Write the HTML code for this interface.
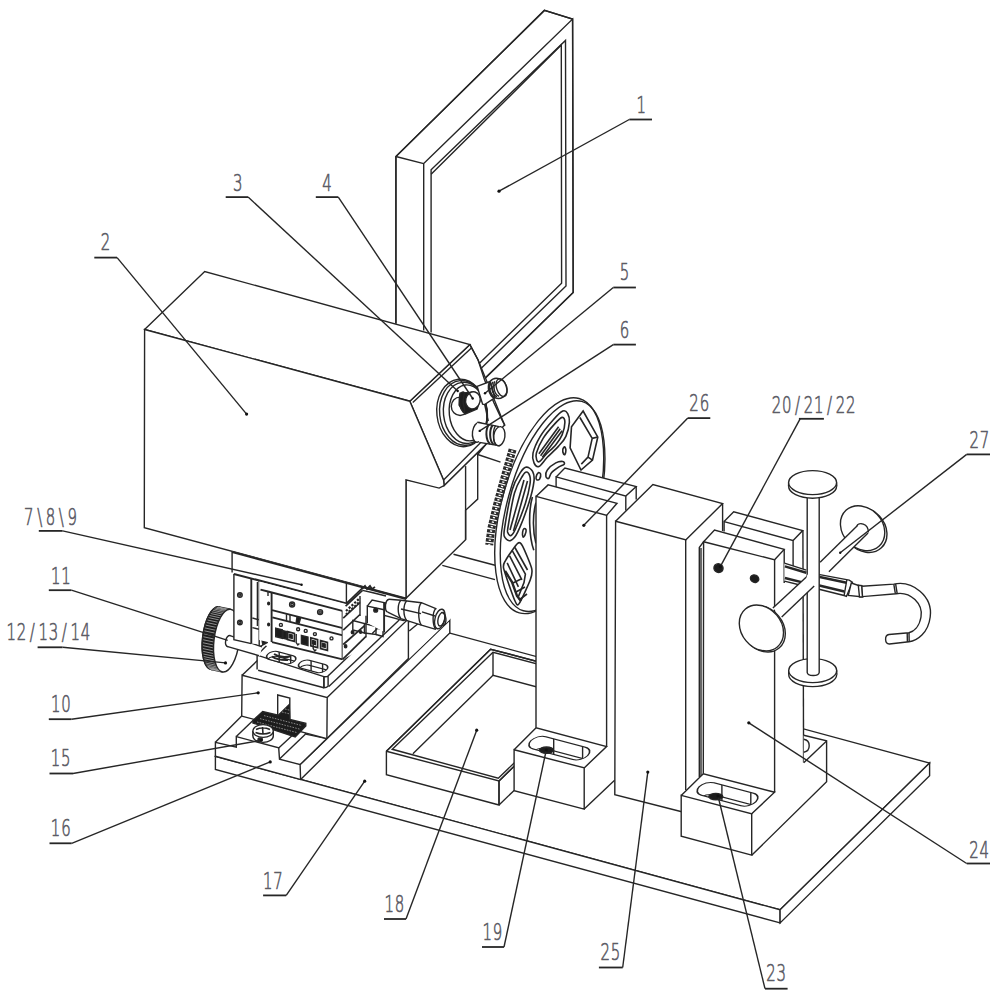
<!DOCTYPE html>
<html lang="en"><head><meta charset="utf-8"><title>Figure</title>
<style>
html,body{margin:0;padding:0;background:#fff;}
body{width:1000px;height:998px;overflow:hidden;}
svg{display:block;}
svg *{vector-effect:none;}
.g{fill:none;stroke:#262626;stroke-width:1.4;stroke-linecap:butt;stroke-linejoin:miter;}
.g .w{fill:#fff;}
.g .f{fill:#fff;stroke:none;}
.g .k{fill:#1c1c1c;}
.g .d{fill:#111;stroke:none;}
.g .t{stroke-width:0.8;}
.g .u{stroke-width:1.8;}
.g .h{stroke-width:0.9;stroke:#555;}
.lb text{font-family:"DejaVu Sans Light","DejaVu Sans","Liberation Sans",sans-serif;font-weight:200;font-size:23.3px;text-anchor:middle;fill:#5c5c66;stroke:#5c5c66;stroke-width:0.7px;}
</style></head><body>
<svg width="1000" height="998" viewBox="0 0 1000 998">
<rect width="1000" height="998" fill="#fff"/>
<g class="g">
<polygon class="w" points="395.9,330 395.9,156.5 544.4,10.4 572.6,19.1 573.2,292.5 485,378.3 423.7,400"/>
<polyline points="395.9,323 395.9,156.5 544.4,10.4 572.6,19.1"/>
<polyline points="423.7,330.5 423.7,163.6 572.6,19.1 573.2,292.5 485,378.3"/>
<polyline points="395.9,156.5 423.7,163.6"/>
<polyline points="431.1,332.5 431.1,169.7 565.5,40.4 566,286 481.5,368"/>
<polyline points="431.1,174.2 561.3,45 561.6,283.3 479.5,363.3"/>
<polyline points="453.5,554.2 495,565.2"/>
<polyline points="442.3,565.4 495,579.6"/>
<polyline points="477.7,454.5 500.5,462.1"/>
<polygon class="w" points="406,479.8 406,598.3 465.6,539.7 465.6,510.2 477.7,499.1 477.7,454.5 486.2,444 444.1,485.5"/>
<polyline points="465.6,466.1 465.6,539.7"/>
<polygon class="w" points="409.8,401.2 469.9,344.6 478.1,360 504.6,425.1 486.2,444 444.1,485.5 443.6,480.1"/>
<polygon class="w" points="144.6,329.5 204.7,271.5 469.9,344.6 409.8,401.2"/>
<polygon class="w" points="144.6,329.5 409.8,401.2 443.6,480.1 444.1,485.5 439.1,488.1 406,479.8 406,598.3 144.3,527.7"/>
<polyline points="412.8,402.6 471.4,348"/>
<polyline points="443.6,480.1 481.2,442"/>
<clipPath id="endface"><polygon points="409.8,401.2 469.9,344.6 478.1,360 484.6,380 494.1,403.1 502.1,420.1 504.8,425.5 486.2,444 444.1,485.5 443.6,480.1"/></clipPath>
<g clip-path="url(#endface)">
<ellipse class="w" cx="461.9" cy="412.9" rx="25.05" ry="33.87" transform="rotate(-6 461.9 412.9)"/>
<ellipse cx="463.3" cy="412.9" rx="23.65" ry="32.46" transform="rotate(-6 463.3 412.9)"/>
<ellipse cx="465.3" cy="412.9" rx="21.84" ry="30.66" transform="rotate(-6 465.3 412.9)"/>
<ellipse cx="468.3" cy="412.9" rx="19.04" ry="28.06" transform="rotate(-6 468.3 412.9)"/>
</g>
<polyline points="469.9,344.6 478.1,360 484.6,380 494.1,403.1 502.1,420.1 505,425.6"/>
<polyline points="484.6,404.1 488.3,421.1"/>
<ellipse class="w" cx="460.1" cy="406.3" rx="8.82" ry="9.22"/>
<polygon class="k" points="460.1,393.1 472.1,392.1 480.1,400.1 477.1,409.1 465.1,414.1 459.1,405.1"/>
<path class="k" d="M460.1,394.1C460.9,392.2 463.6,391.3 464.1,392.6C464.6,393.9 463,399.2 463.1,402.1C463.2,405 464.6,408.4 464.6,410.1C464.6,411.8 463.9,413.1 463.1,412.1C462.3,411.1 460.1,407.1 459.6,404.1C459.1,401.1 459.4,396 460.1,394.1Z"/>
<ellipse class="w" cx="472.9" cy="400.3" rx="7.21" ry="8.62" transform="rotate(15 472.9 400.3)"/>
<polygon class="w" points="477.1,386.3 490.1,381.5 495.1,397.6 484.6,404.6 482.6,404.1"/>
<path class="w" d="M490.1,381.5C494.1,376 506.2,377 507,390.1C507.2,396.1 500.1,400.1 495.1,397.6Z"/>
<ellipse cx="501.6" cy="387.6" rx="5.01" ry="9.22" transform="rotate(-18 501.6 387.6)"/>
<path d="M491.1,382.5C488.1,386.1 490.1,395.1 495.1,397.3"/>
<path d="M492.9,381.9C490.3,386.1 492.3,395.1 497.1,396.7"/>
<path d="M494.6,381.2C492.5,386.1 494.5,395.1 499.1,396.2"/>
<g style="stroke-width:1.8">
<path d="M489.7,382.2C487.1,387.1 489.1,395.1 494.1,398.1"/>
</g>
<ellipse class="w" cx="478.1" cy="432.3" rx="5.61" ry="10.02" transform="rotate(8 478.1 432.3)"/>
<polygon class="f" points="477.1,422.3 499.1,426.6 500.1,445.7 479.1,442.4"/>
<polyline points="477.3,422.3 499.1,426.6"/>
<polyline points="479.3,442.4 500.1,445.8"/>
<ellipse class="w" cx="499.3" cy="436.2" rx="5.61" ry="9.62" transform="rotate(8 499.3 436.2)"/>
<g style="stroke-width:2">
<path d="M489.1,424.3C485.1,429.1 485.6,440.2 490.1,444"/>
<path d="M492.6,425.1C489.1,430.1 489.3,440.2 493.3,444.5"/>
</g>
<path d="M495.6,425.7C492.6,430.1 492.6,440.2 496.1,445"/>
<polygon class="w" points="215.4,756.3 780.1,909.8 929.6,763 364.5,610"/>
<polygon class="w" points="215.4,756.3 215.4,769.5 780.1,922.9 780.1,909.8"/>
<polygon class="w" points="780.1,909.8 780.1,922.9 929.6,775.8 929.6,763"/>
<ellipse class="w" cx="549.2" cy="505.7" rx="47.2" ry="111.3" transform="rotate(15.6 549.2 505.7)"/>
<ellipse cx="552.6" cy="506.1" rx="45" ry="108.7" transform="rotate(15.6 552.6 506.1)"/>
<path d="M512.6,449.5 L510.7,456.1 L503.8,480.2 L497,505 L491.4,528.3 L489.2,545" style="stroke:#2b2b2b;stroke-width:8;stroke-dasharray:3.4 1.2"/>
<path d="M512.6,449.5 L510.7,456.1 L503.8,480.2 L497,505 L491.4,528.3 L489.2,545" style="stroke:#fff;stroke-width:2.2;stroke-dasharray:1.3 3.3;stroke-dashoffset:-1"/>
<g id="wheelg" style="stroke-width:1.6">
<path d="M534,462.9C533,460.7 532,457.5 533,453.1C534,448.7 537,441.8 540.3,436.3C543.6,430.8 549.1,424.4 552.9,420.2C556.6,416 560.3,412.1 562.8,411C565.3,409.9 566.6,411.7 567.7,413.6C568.8,415.5 569.7,418.5 569.4,422.3C569.1,426.1 567.7,432.3 565.9,436.3C564.1,440.3 561.7,442.6 558.6,446.1C555.5,449.6 550.6,453.9 547.3,457.3C544,460.7 541.1,465.6 538.9,466.5C536.7,467.4 535,465.1 534,462.9Z"/>
<path d="M536.8,460.1C536.3,458.7 535.3,456.7 536.4,453.1C537.5,449.5 540.1,443.2 543.1,438.4C546.1,433.6 551.1,427.9 554.3,424.4C557.5,420.9 560.3,417.8 562.1,417.4C563.9,417 564.9,419.4 564.9,422.3C564.9,425.2 563.6,431.2 562.1,434.9C560.6,438.6 558.5,441.4 555.8,444.7C553.1,448 548.6,451.7 545.9,454.5C543.2,457.3 541.1,460.6 539.6,461.5C538.1,462.4 537.3,461.5 536.8,460.1Z"/>
<polyline points="538.9,453.8 558.6,426.8"/>
<polyline points="542.4,457.3 562.1,430.7"/>
<polyline points="540.6,455.7 560.2,428.7"/>
<polygon points="583.1,411 597.8,437 592.5,460.1 581,470 570.1,447.8 571.5,426.8"/>
<polyline points="579.9,417.5 592.2,438.4 588,457.1 581.3,464.1"/>
<polyline points="588,457.1 592.5,460.1"/>
<polyline points="592.2,438.4 597.8,437"/>
<path d="M545.9,476.3C545.7,474.9 545.6,472.2 547.3,470C548.9,467.8 553.2,464.3 555.8,462.9C558.4,461.5 561.4,461.3 562.8,461.5C564.2,461.7 564.9,463.4 564.2,464.3C563.5,465.2 560.7,465.8 558.6,467.2C556.5,468.6 553.1,470.9 551.5,472.8C549.9,474.7 549.6,477.8 548.7,478.4C547.8,479 546.1,477.7 545.9,476.3Z"/>
<path d="M563.5,453.8C563.1,453 562.6,450.8 562.8,449.6C563,448.4 564.1,446.7 564.6,446.8C565.1,446.9 565.9,449 565.9,450.3C565.9,451.6 565.3,453.9 564.9,454.5C564.5,455.1 563.9,454.6 563.5,453.8Z"/>
<path d="M536.1,477C536.3,475.8 537.5,473.3 538.2,472.8C539,472.3 540.4,473.1 540.6,474.2C540.8,475.2 540.2,478.2 539.6,479.1C539,480 537.4,480.2 536.8,479.8C536.2,479.4 535.9,478.2 536.1,477Z"/>
<path d="M520.7,472.1C523.1,468.3 524.3,467.2 526.3,467.1C528.3,467 531.3,469 532.6,471.4C533.9,473.8 534.6,476.1 534,481.2C533.4,486.3 531.8,493.7 529.1,502.2C526.4,510.7 520.8,525.7 517.7,532.1C514.6,538.5 512.8,539.6 510.7,540.5C508.6,541.4 506.2,539.6 505.1,537.7C504.1,535.8 503.2,537.2 504.4,529.3C505.6,521.3 509.4,499.5 512.1,490C514.8,480.5 518.3,475.9 520.7,472.1Z"/>
<path d="M522.5,476C524.5,472.5 525.3,472 526.5,472C527.7,472 529.2,474 529.8,476C530.4,478 530.7,479.5 530,484C529.3,488.5 527.9,495.5 525.5,503C523.1,510.5 517.9,523.6 515.5,529C513.1,534.4 512.2,534.8 511,535.5C509.8,536.2 508.5,534.4 508,533C507.5,531.6 506.9,533.7 508,527C509.1,520.3 512.1,501.5 514.5,493C516.9,484.5 520.5,479.5 522.5,476Z"/>
<polyline points="524,480 510,530"/>
<polyline points="527.5,481 513.5,531"/>
<path d="M517.7,543.3C519.7,541.7 521,543.1 522.6,546.1C524.2,549.1 530.8,564.7 531.7,568.6C532.6,572.5 531.8,575.7 530.3,579.8C528.8,583.9 520.9,601.1 519.1,603.6C517.3,606.1 516.7,604.9 514.9,600.8C513.1,596.7 504.8,573.3 503.7,568.6C502.6,563.9 504.2,563.1 505.8,560.1C507.4,557.1 515.7,544.9 517.7,543.3Z"/>
<polyline points="512.1,550.3 525.4,574.2 524,582.6 518.4,596.6"/>
<polyline points="514.9,547.5 527.5,570"/>
<polyline points="509.6,555.9 521.9,579.8"/>
<polyline points="507.2,562.9 518.4,586.8"/>
<path d="M505,571 l7,11 l5,14 l4,5" style="stroke-width:2.4"/>
<path d="M513,583 l8,-4 M516,592 l9,-5 M519,600 l8,-6" style="stroke-width:1.6"/>
<path d="M532.4,497C528.2,511 528.9,536.3 533.8,550.3"/>
<path d="M535.9,502.6C532.4,515.3 532.8,532.1 535.9,543.3"/>
<path d="M522.6,532.1C522.8,530.7 523.4,529 524,528.6C524.6,528.2 525.9,529 526.1,530C526.3,531 525.5,533.7 525,534.9C524.5,536.1 523.4,537.5 523,537C522.6,536.5 522.4,533.5 522.6,532.1Z"/>
</g>
<polygon class="f" points="300.1,764.6 449.8,620.1 449.8,632.9 300.6,779.4"/>
<polyline points="300.1,764.6 449.8,620.1 449.8,632.9 300.6,779.4"/>
<polygon class="f" points="408.4,622.9 445,600 449.8,619.4 408.4,659.3"/>
<polyline points="409.2,631 420,622"/>
<polygon class="f" points="215.4,742.3 236.3,747.1 236.3,736.6 278.7,747.9 279.5,759.1 300.1,764.6 300.6,779.4 215.4,756.3"/>
<polygon class="f" points="215.4,742.3 241.7,716.1 262,721 236.3,747.1"/>
<polygon class="f" points="236.3,736.6 278.7,747.9 305.7,723 263.3,711.7"/>
<polygon class="f" points="279.5,759.1 300.1,764.6 326.9,738.6 305.6,734.1"/>
<polygon class="f" points="278.7,747.9 305.7,723 305.6,734.1 279.5,759.1"/>
<polyline points="215.4,756.3 215.4,742.3 236.3,747.1 236.3,736.6 278.7,747.9 279.5,759.1 300.1,764.6 300.6,779.4"/>
<polyline points="215.4,742.3 241.7,716.1"/>
<polyline points="236.3,736.6 254,719.6"/>
<polyline points="278.7,747.9 305.7,723"/>
<polyline points="279.5,759.1 305.6,734.1"/>
<polyline points="305.7,723 305.6,734.1"/>
<polyline points="305.6,734.1 326.9,738.6"/>
<polyline points="300.1,764.6 326.9,738.6"/>
<polyline points="215.4,756.3 301,779.6"/>
<polygon class="f" points="242.1,675.2 259.2,659 340,659 408.4,618.8 408.4,658.4 326.9,738.6 241.7,716.1"/>
<polyline points="241.7,716.1 242.1,675.2 327.2,697.6 326.9,738.6"/>
<polyline points="241.7,716.1 326.9,738.6"/>
<polyline points="242.1,675.2 258,660"/>
<polyline points="327.2,697.6 408.4,618.8 408.4,658.4 326.9,738.6"/>
<polyline points="277.7,725 277.7,695 289.8,698 289.8,728"/>
<polygon class="k" points="253.1,720.3 262.7,711.5 278.3,715.2 289.2,704.6 289.8,719.4 305.8,723.4 305.8,726 295.2,737 252.9,723"/>
<path id="padhatch" d="M257,722 l40,10.6 M260,718.6 l40,10.6 M264,715.6 l38,10 M282,712 l8,2 M285,709 l5,1.3" style="stroke:#cfcfcf;stroke-width:0.6;stroke-dasharray:1.6 1.2"/>
<ellipse class="w" cx="263.1" cy="736" rx="10.2" ry="6.4"/>
<rect class="f" x="252.9" y="731" width="20.4" height="5"/>
<polyline points="252.9,731 252.9,736"/>
<polyline points="273.3,731 273.3,736"/>
<ellipse class="w" cx="263.1" cy="731" rx="10.2" ry="6.4"/>
<path d="M256,729.5 q7,-3.5 14,0 M255.5,732.5 q7.5,3 15,0 M262.5,727 l0.5,7" style="stroke-width:1.6"/>
<ellipse class="k" cx="260.2" cy="739.6" rx="2.2" ry="1.6"/>
<polygon class="f" points="257.1,655.1 266.5,645.5 345,645.5 381,625 399.2,620 329,686.2 323.9,687.8 258.1,670.2"/>
<polyline points="257.1,669.4 257.1,655.1 323.9,676.7"/>
<path d="M323.9,676.7Q327,676.9 328.1,676L328.1,686.3Q326.5,687.8 323.9,687.8Z"/>
<polyline points="258.1,670.2 323.9,687.8"/>
<polyline points="323.9,676.7 323.9,687.8"/>
<polyline points="257.1,655.1 266.5,645.8"/>
<polyline points="328.3,675.8 381,625"/>
<polyline points="328.8,686.4 399.2,620"/>
<clipPath id="sc1"><path transform="matrix(0.968 0.256 0.707 -0.704 281.2 657.6)" d="M-8.2,-5.6 L8.2,-5.6 A5.6,5.6 0 0 1 8.2,5.6 L-8.2,5.6 A5.6,5.6 0 0 1 -8.2,-5.6 Z"/></clipPath>
<path class="w" transform="matrix(0.968 0.256 0.707 -0.704 281.2 657.6)" d="M-8.2,-5.6 L8.2,-5.6 A5.6,5.6 0 0 1 8.2,5.6 L-8.2,5.6 A5.6,5.6 0 0 1 -8.2,-5.6 Z"/>
<g clip-path="url(#sc1)"><path transform="matrix(0.968 0.256 0.707 -0.704 281.2 662.6)" d="M-8.2,-5.6 L8.2,-5.6 A5.6,5.6 0 0 1 8.2,5.6 L-8.2,5.6 A5.6,5.6 0 0 1 -8.2,-5.6 Z"/>
<line x1="279.2" y1="627.6" x2="279.2" y2="687.6"/>
<line x1="290.7" y1="627.6" x2="290.7" y2="687.6"/>
</g>
<clipPath id="sc2"><path transform="matrix(0.968 0.256 0.707 -0.704 313.1 666.4)" d="M-8.2,-5.6 L8.2,-5.6 A5.6,5.6 0 0 1 8.2,5.6 L-8.2,5.6 A5.6,5.6 0 0 1 -8.2,-5.6 Z"/></clipPath>
<path class="w" transform="matrix(0.968 0.256 0.707 -0.704 313.1 666.4)" d="M-8.2,-5.6 L8.2,-5.6 A5.6,5.6 0 0 1 8.2,5.6 L-8.2,5.6 A5.6,5.6 0 0 1 -8.2,-5.6 Z"/>
<g clip-path="url(#sc2)"><path transform="matrix(0.968 0.256 0.707 -0.704 313.1 671.4)" d="M-8.2,-5.6 L8.2,-5.6 A5.6,5.6 0 0 1 8.2,5.6 L-8.2,5.6 A5.6,5.6 0 0 1 -8.2,-5.6 Z"/>
<line x1="311.1" y1="636.4" x2="311.1" y2="696.4"/>
<line x1="322.6" y1="636.4" x2="322.6" y2="696.4"/>
</g>
<path d="M272,656.5 q6,4 16,3.5 M274,654 q8,5 17,2" style="stroke-width:2"/>
<g transform="rotate(7 226.6 640.6)">
<path class="k" d="M215,608 a12.6,31.6 0 0 0 0,63.2 l11.6,1 a12.6,31.6 0 0 1 0,-63.2 z"/>
<ellipse class="k" cx="215" cy="639.6" rx="12.6" ry="31.6"/>
<path d="M214,608.3 L224.8,609.3 M212.9,608.9 L223.7,609.9 M211.7,609.7 L222.5,610.7 M210.6,610.8 L221.4,611.8 M209.5,612.2 L220.3,613.2 M208.5,613.8 L219.3,614.8 M207.6,615.7 L218.4,616.7 M206.7,617.8 L217.5,618.8 M205.9,620 L216.7,621 M205.2,622.5 L216,623.5 M204.6,625.1 L215.4,626.1 M204.1,627.8 L214.9,628.8 M203.7,630.7 L214.5,631.7 M203.4,633.6 L214.2,634.6 M203.3,636.6 L214.1,637.6 M203.2,639.6 L214,640.6 M203.3,642.6 L214.1,643.6 M203.4,645.6 L214.2,646.6 M203.7,648.5 L214.5,649.5 M204.1,651.4 L214.9,652.4 M204.6,654.1 L215.4,655.1 M205.2,656.7 L216,657.7 M205.9,659.2 L216.7,660.2 M206.7,661.4 L217.5,662.4 M207.6,663.5 L218.4,664.5 M208.5,665.4 L219.3,666.4 M209.5,667 L220.3,668 M210.6,668.4 L221.4,669.4 M211.7,669.5 L222.5,670.5 M212.9,670.3 L223.7,671.3 M214,670.9 L224.8,671.9" style="stroke:#b8b8b8;stroke-width:0.7"/>
<ellipse class="w" cx="226.6" cy="640.6" rx="12.6" ry="31.6"/>
</g>
<polygon class="f" points="230.1,635.6 262,646.8 260,656 227.1,646.1"/>
<polyline points="230.1,635.6 262,646.8"/>
<polyline points="227.8,646.6 259,655.6"/>
<path d="M230.6,635.6C225.5,634.5 223.5,645.5 228.2,646.8"/>
<polygon class="f" points="233.9,572.5 251.3,576.7 259.2,581 271.6,592 271.6,646 251.3,643.4 233.9,639.8"/>
<polyline points="233.9,572.8 233.9,639.8 251.3,643.6"/>
<g style="stroke-width:1.9">
<polyline points="251.3,576.7 251.3,643.6"/>
</g>
<polyline points="259.2,581 259.2,646"/>
<polyline points="257.4,582 257.4,626"/>
<polyline points="252.4,618 258.8,619.7"/>
<polyline points="252.4,627.6 258.8,629.3"/>
<polyline points="259.2,632 266.4,625.6 267.2,642.5 260,646.5"/>
<path class="k" d="M262,640 l4,-3 l0.4,5 l-3.6,2.6 z"/>
<ellipse cx="239.9" cy="595.1" rx="2.3" ry="2.3"/>
<ellipse cx="239.9" cy="595.1" rx="1.1" ry="1.1"/>
<ellipse cx="239.9" cy="622.4" rx="2.3" ry="2.3"/>
<ellipse cx="239.9" cy="622.4" rx="1.1" ry="1.1"/>
<polygon class="f" points="232.1,551.4 346.4,582.2 362.5,586.6 362.5,588 346.4,603.5 232.1,573.5"/>
<g style="stroke-width:2.1">
<polyline points="232.1,552 406,598.9"/>
<polyline points="233.9,573.9 346.4,603.5"/>
</g>
<polyline points="232.1,551.4 232.1,572.4"/>
<polyline points="346.4,582.6 346.4,603.5"/>
<polyline points="346.4,603.5 362.5,588"/>
<polygon class="f" points="259.2,581.4 346,604 343,661 272,643 259.2,640"/>
<g style="stroke-width:1.9">
<polyline points="260.5,589.6 268,591.5"/>
<polyline points="268,591.5 342.4,610.8"/>
<polyline points="272,610.1 342.8,628.2"/>
<polyline points="272.4,617.3 342.8,635.4"/>
<polyline points="271.6,592 271.6,642"/>
<polyline points="272,642.1 342.6,659.4"/>
<polyline points="342.6,610.6 342.6,659.4"/>
</g>
<polyline points="268,591.5 268,596"/>
<ellipse cx="292.1" cy="604.5" rx="2.5" ry="2.5"/>
<ellipse cx="292.1" cy="604.5" rx="1.2" ry="1.2"/>
<ellipse cx="320.1" cy="612.1" rx="2.5" ry="2.5"/>
<ellipse cx="320.1" cy="612.1" rx="1.2" ry="1.2"/>
<ellipse class="k" cx="268.6" cy="603.5" rx="0.9" ry="1.3"/>
<ellipse class="k" cx="268.6" cy="624.5" rx="0.9" ry="1.3"/>
<polyline points="286.5,614.2 286.5,620.6"/>
<polyline points="290,615 290,621.4"/>
<polyline points="299,617.4 298,623.6"/>
<path class="k" d="M297,617 l3.6,1 l-1.4,5 l-3,-0.8 z"/>
<path class="k" d="M275.7,628.2 l6.6,1.7 l0,8.4 l-6.6,-1.7 z"/>
<path class="k" d="M301.4,635.4 l6.6,1.7 l0,8.4 l-6.6,-1.7 z"/>
<path d="M287.6,631.6 l6.8,1.8 l0,8 l-6.8,-1.8 z" style="stroke-width:1.7"/>
<path class="k" d="M289.2,634.2 l3,0.8 l0,3.4 l-3,-0.8 z"/>
<path d="M310.8,637.8 l6.8,1.8 l0,8 l-6.8,-1.8 z" style="stroke-width:1.7"/>
<path class="k" d="M312.4,640.4 l3,0.8 l0,3.4 l-3,-0.8 z"/>
<path d="M320.6,640.6 l6.8,1.8 l0,8 l-6.8,-1.8 z" style="stroke-width:1.7"/>
<path class="k" d="M322.2,643.2 l3,0.8 l0,3.4 l-3,-0.8 z"/>
<path class="k" d="M283,630.6 l3.4,0.9 l0,7.6 l-3.4,-0.9 z"/>
<ellipse cx="280.9" cy="624.9" rx="1.5" ry="1.5"/>
<ellipse cx="298.1" cy="629.3" rx="1.5" ry="1.5"/>
<ellipse cx="305.7" cy="630.9" rx="1.5" ry="1.5"/>
<ellipse cx="314.9" cy="634.1" rx="1.5" ry="1.5"/>
<ellipse cx="331.5" cy="638.4" rx="1.5" ry="1.5"/>
<path d="M296.2,634 l0,8.6 l1.6,2.4 l1.6,-1.6 M313.2,640 l0,8.6 l1.6,2.4 l1.6,-1.6" style="stroke-width:1.4"/>
<polygon class="f" points="342.6,610.6 362.5,588 372,592 372,643.8 342.6,659.4"/>
<g style="stroke-width:1.7">
<polyline points="345.6,606.1 362.5,590.4"/>
<polyline points="343.2,618.1 360,602.5"/>
<polyline points="343.2,630.1 360,614.5"/>
<polyline points="343.2,644.5 364.9,625.3"/>
<polyline points="342.6,659.4 366,636.4"/>
</g>
<path d="M346,611 l14,-13 M346,614.5 l14,-13" style="stroke-width:2.2;stroke-dasharray:2.2 1.6"/>
<polyline points="360,596 360,616"/>
<polyline points="366,615.7 366,637.3"/>
<ellipse class="k" cx="352.6" cy="632.3" rx="1.3" ry="1.6"/>
<ellipse class="k" cx="345.6" cy="646.3" rx="1.2" ry="1.5"/>
<ellipse class="k" cx="360.6" cy="632" rx="1.1" ry="1.4"/>
<polygon points="352.8,620.5 364.4,623.5 364.4,633 352.8,630"/>
<polyline points="364.4,623.5 376,626.5 376,634.5 364.4,633"/>
<polyline points="376,628 383,629.6 383,636.5 376,634.5"/>
<polygon class="f" points="367.3,606.1 372.1,600.1 386.5,603.1 384.1,609.7 384.1,632 367.3,623"/>
<polyline points="367.3,623 367.3,606.1 384.1,609.7"/>
<polyline points="367.3,606.1 372.1,600.1 386.5,603.1"/>
<g style="stroke-width:1.9">
<polyline points="384.1,603 384.1,632.5"/>
</g>
<ellipse class="k" cx="375.7" cy="610.2" rx="1.9" ry="1.9"/>
<path d="M362,589 l3,-3 l2,3 l3,-3 l2,3 l3,-2" style="stroke-width:1.8"/>
<polyline points="346.4,603.5 362.5,588"/>
<polyline points="362.5,590.4 372,592.5 386,596"/>
<polygon class="f" points="387.7,599.2 400.9,600.2 421.4,602.7 436.5,608.8 442,613 443.5,620 440,628 435.8,629.4 421.4,625.2 400.9,618.6 387.7,612.1"/>
<path d="M389,599.2L400.9,600.2L421.4,602.7L436.5,608.8"/>
<path d="M387.7,612.1L400.9,618.6L421.4,625.2L435.8,629.4"/>
<path d="M389,599.2C384.5,600.4 384.5,611 387.7,612.1"/>
<path d="M400.9,600.2C397.3,603.7 397.3,614.1 400.9,618.6"/>
<path d="M406.6,600.9C403,604.4 403,615.9 406.6,620.4"/>
<path d="M421.4,602.7C417.8,606.2 417.8,620.7 421.4,625.2"/>
<path d="M435.8,608.6C432.2,612.1 432.2,624.9 435.8,629.4"/>
<ellipse class="w" cx="439.8" cy="619" rx="4.8" ry="10" transform="rotate(14 439.8 619)"/>
<ellipse cx="441.4" cy="619.2" rx="3.3" ry="7" transform="rotate(14 441.4 619.2)"/>
<path d="M441,612.4C446.8,613.4 447.8,623.6 442.5,626"/>
<polyline points="401,609 421,613.6"/>
<polyline points="422,611.8 435,616"/>
<polygon class="w" points="386.4,751.2 490.6,649.2 603.2,679 499,781 499,805 386.4,774.6"/>
<polyline points="386.4,751.2 490.6,649.2 603.2,679"/>
<polyline points="386.4,751.2 499,781 603.2,679"/>
<polyline points="499,781 499,805"/>
<polyline points="499,805 514.1,790.4"/>
<polygon points="392.3,749.3 493,652.3 600,680.6 498.3,778.2"/>
<polyline points="412.9,753.8 493,675.3 580,698.5"/>
<polyline points="493,652.3 493,675.3"/>
<polygon class="f" points="556.1,476.9 564.9,468.1 636.2,486.5 636.2,499.3 625.8,510.5 625.8,680.5 556.1,680.5"/>
<polyline points="556.1,488.1 556.1,476.9 625.8,496.1 625.8,510.5"/>
<polyline points="556.1,476.9 564.9,468.1 636.2,486.5 625.8,496.1"/>
<polyline points="636.2,486.5 636.2,499.6"/>
<polygon class="f" points="536,496.4 548.1,484.9 617,503.3 616.2,746.5 606.6,746.5 536,727.8"/>
<polyline points="536,727.8 536,496.4 606.6,515.4 606.6,746.5"/>
<polyline points="536,496.4 548.1,484.9 617,503.3 606.6,515.4"/>
<polygon class="f" points="514.1,749.7 536.1,727.8 606.6,746.5 614.6,780.2 584.2,809.1 514.1,790.6"/>
<polygon points="514.1,749.7 584.2,767.9 584.2,809.1 514.1,790.6"/>
<polyline points="514.1,749.7 536.1,727.8 606.6,746.5 584.2,767.9"/>
<polyline points="584.2,809.1 614.6,780.2"/>
<clipPath id="sc3"><path transform="matrix(0.968 0.256 0.707 -0.704 559.3 748.1)" d="M-20.5,-8.8 L20.5,-8.8 A8.8,8.8 0 0 1 20.5,8.8 L-20.5,8.8 A8.8,8.8 0 0 1 -20.5,-8.8 Z"/></clipPath>
<path class="w" transform="matrix(0.968 0.256 0.707 -0.704 559.3 748.1)" d="M-20.5,-8.8 L20.5,-8.8 A8.8,8.8 0 0 1 20.5,8.8 L-20.5,8.8 A8.8,8.8 0 0 1 -20.5,-8.8 Z"/>
<g clip-path="url(#sc3)"><path transform="matrix(0.968 0.256 0.707 -0.704 559.3 760.1)" d="M-20.5,-8.8 L20.5,-8.8 A8.8,8.8 0 0 1 20.5,8.8 L-20.5,8.8 A8.8,8.8 0 0 1 -20.5,-8.8 Z"/>
<line x1="553.7" y1="718.1" x2="553.7" y2="778.1"/>
<line x1="582.6" y1="718.1" x2="582.6" y2="778.1"/>
</g>
<ellipse class="k" cx="546.5" cy="750.2" rx="7" ry="3.2"/>
<polygon class="f" points="615.6,521.2 652.9,484.5 722.6,503.6 722.6,760 685.7,793 685.7,813 614.8,794.6"/>
<polyline points="685.7,812.7 614.8,794.6 615.6,521.2 685.7,539.9 685.7,790"/>
<polyline points="615.6,521.2 652.9,484.5 722.6,503.6 685.7,539.9"/>
<polyline points="722.6,503.6 722.6,531"/>
<polygon class="f" points="724.1,521.6 733.7,511.7 802.7,530.6 803.6,762.6 793.1,770 724.1,760"/>
<polyline points="724.1,531.5 724.1,521.6 793.1,540.5 793.1,566"/>
<polyline points="724.1,521.6 733.7,511.7 802.7,530.6 793.1,540.5"/>
<polyline points="802.9,530.6 803.6,762.6"/>
<polygon class="f" points="803.7,735.3 826.6,740.9 826.6,781.8 751.7,855.2 751.2,813.1 803.7,762.6"/>
<polyline points="803.7,735.3 826.6,740.9 826.6,781.8 751.7,855.2"/>
<polyline points="826.6,740.9 803.7,762.8"/>
<polyline points="774,791.6 751.2,813.4"/>
<path d="M803.8,739.3C811,740.5 811,751 803.8,752.2"/>
<polygon class="f" points="699.3,547.5 700.4,545.2 703.6,541.7 703.6,777 699.3,777"/>
<polyline points="699.3,777 699.3,547.5 703.6,541.7"/>
<polyline points="701,548 701,777"/>
<polygon class="f" points="703.6,541.7 714.5,530.1 784.2,549.4 784.2,583 774.6,592 774.6,792.2 703.3,773.7"/>
<polyline points="703.3,773.7 703.6,541.7 774.6,559.8 774.6,792.2"/>
<polyline points="703.6,541.7 714.5,530.1 784.2,549.4 774.6,559.8"/>
<polyline points="784.2,549.4 784.2,583"/>
<ellipse class="k" cx="718.5" cy="568.1" rx="4.6" ry="4.3" transform="rotate(20 718.5 568.1)"/>
<ellipse class="k" cx="754.6" cy="578.7" rx="4.3" ry="3.6" transform="rotate(25 754.6 578.7)"/>
<polygon class="f" points="681.2,795.4 703.3,773.7 774.6,792.2 751.7,813.8 751.7,855.2 681.2,836.3"/>
<polygon points="681.2,795.4 751.7,813.8 751.7,855.2 681.2,836.3"/>
<polyline points="681.2,795.4 703.3,773.7 774.6,792.2 751.7,813.8"/>
<clipPath id="sc4"><path transform="matrix(0.968 0.256 0.707 -0.704 727.5 794.3)" d="M-20.5,-8.8 L20.5,-8.8 A8.8,8.8 0 0 1 20.5,8.8 L-20.5,8.8 A8.8,8.8 0 0 1 -20.5,-8.8 Z"/></clipPath>
<path class="w" transform="matrix(0.968 0.256 0.707 -0.704 727.5 794.3)" d="M-20.5,-8.8 L20.5,-8.8 A8.8,8.8 0 0 1 20.5,8.8 L-20.5,8.8 A8.8,8.8 0 0 1 -20.5,-8.8 Z"/>
<g clip-path="url(#sc4)"><path transform="matrix(0.968 0.256 0.707 -0.704 727.5 806.3)" d="M-20.5,-8.8 L20.5,-8.8 A8.8,8.8 0 0 1 20.5,8.8 L-20.5,8.8 A8.8,8.8 0 0 1 -20.5,-8.8 Z"/>
<line x1="721.9" y1="764.3" x2="721.9" y2="824.3"/>
<line x1="750.8" y1="764.3" x2="750.8" y2="824.3"/>
</g>
<ellipse class="k" cx="715.8" cy="796.6" rx="7" ry="3.2"/>
<ellipse class="w" cx="864.6" cy="529.8" rx="24.6" ry="20.2" transform="rotate(47 864.6 529.8)"/>
<ellipse class="w" cx="862.6" cy="528.2" rx="24.4" ry="20" transform="rotate(47 862.6 528.2)"/>
<polygon class="f" points="820.1,562.2 857.8,525.4 869,531.8 828.9,571.8"/>
<polyline points="820.1,562.2 857,526"/>
<polyline points="828.9,571.8 868,533"/>
<path d="M856.6,526.4C858.5,521.5 868.5,523 868.4,532.6"/>
<polygon class="f" points="784.4,563.1 806.3,570.2 806.3,588 784.4,581.1"/>
<polyline points="784.4,563.1 806.3,570.2"/>
<polyline points="784.4,581.1 800,585"/>
<g style="stroke-width:2.5"><polyline points="784.9,566.4 806.3,572.8"/><polyline points="784.9,578 803.5,582.6"/></g>
<polygon class="f" points="817.1,574.1 849.2,580.1 852.4,582.2 846.4,596.4 844.1,595.5 816,588.5"/>
<polyline points="817.1,574.1 849.2,580.1 852.4,582.2 846.4,596.4 844.1,595.5 816,588.5"/>
<g style="stroke-width:2.5"><polyline points="815.1,576 846.6,582.8"/><polyline points="814.1,584.3 844.3,591.5"/></g>
<polyline points="846.8,580 844.1,595.5"/>
<polygon class="w" points="851.3,583 860.1,586 860.9,596.6 848.3,595.4"/>
<polygon class="w" points="858.3,585.2 861.9,585.6 862.7,597 859.5,597"/>
<path class="w" d="M861.9,586.2L893.8,584.1C912.2,580.1 933.1,596.1 930.2,617C928.3,633 917,641 909,641.8L889.4,644C884.6,644.2 884.2,635.2 889,634.5L909,632.7C913.8,631.4 919.4,626.6 921,617C923.4,604.1 910.6,591.3 896.2,593.7L862.5,596.6Z"/>
<polyline points="893.8,584.1 895.4,593.8"/>
<polyline points="895.6,583.9 897.2,593.6"/>
<polyline points="909,632.7 909.2,641.8"/>
<polyline points="907.2,632.9 907.4,642"/>
<ellipse class="w" cx="812.7" cy="674.6" rx="24" ry="12"/>
<rect class="f" x="788.7" y="670.6" width="48" height="4"/>
<polyline points="788.7,670.6 788.7,674.6"/>
<polyline points="836.7,670.6 836.7,674.6"/>
<ellipse class="w" cx="812.7" cy="670.6" rx="24" ry="12"/>
<path class="w" d="M807.2,496L807.2,672.5C807.6,676.5 818.8,676.5 819.2,672.5L819.2,496"/>
<ellipse class="w" cx="812.6" cy="486.2" rx="24" ry="12"/>
<rect class="f" x="788.6" y="482.6" width="48" height="3.6"/>
<polyline points="788.6,482.6 788.6,486.2"/>
<polyline points="836.6,482.6 836.6,486.2"/>
<ellipse class="w" cx="812.6" cy="482.6" rx="24" ry="12"/>
<polygon class="f" points="807.4,576 772.9,608.1 781.7,616.9 813.8,586.5"/>
<polyline points="808,575.4 772.9,608.1"/>
<polyline points="814.2,586.1 781.7,616.9"/>
<circle class="f" cx="811.8" cy="577.6" r="5.2"/>
<ellipse class="w" cx="763" cy="628.9" rx="25" ry="20.2" transform="rotate(50 763 628.9)"/>
<ellipse class="w" cx="761.4" cy="628" rx="24.8" ry="20" transform="rotate(50 761.4 628)"/>
<polyline class="u" points="629.3,119.5 652,119.5"/>
<polyline points="629.3,119.5 499,191.2"/>
<circle class="d" cx="499" cy="191.2" r="1.6"/>
<polyline class="u" points="94.3,257.6 117.1,257.6"/>
<polyline points="117.1,257.6 246.6,414.1"/>
<circle class="d" cx="246.6" cy="414.1" r="1.6"/>
<polyline class="u" points="225.7,197.1 248.1,197.1"/>
<polyline points="248.1,197.1 457.7,391"/>
<circle class="d" cx="457.7" cy="391" r="1.2"/>
<polyline class="u" points="315.8,197.1 338.3,197.1"/>
<polyline points="338.3,197.1 472.7,398.5"/>
<circle class="d" cx="472.7" cy="398.5" r="1.2"/>
<polyline class="u" points="613.3,287.5 635.9,287.5"/>
<polyline points="613.3,287.5 485,393.3"/>
<circle class="d" cx="485" cy="393.3" r="1.2"/>
<polyline class="u" points="613.3,344.6 635.9,344.6"/>
<polyline points="613.3,344.6 479.7,430.9"/>
<circle class="d" cx="479.7" cy="430.9" r="1.2"/>
<polyline class="u" points="687.8,418.1 710.3,418.1"/>
<polyline points="687.8,418.1 583.8,525.3"/>
<circle class="d" cx="583.8" cy="525.3" r="1.6"/>
<polyline class="u" points="798.9,418.8 823.9,418.8"/>
<polyline points="800.1,418.8 720.3,566.6"/>
<circle class="d" cx="720.3" cy="566.6" r="1.6"/>
<polyline class="u" points="966.7,454.4 990,454.4"/>
<polyline points="966.7,454.4 840.2,552.8"/>
<circle class="d" cx="840.2" cy="552.8" r="1.2"/>
<polyline class="u" points="38.8,530.9 62.6,530.9"/>
<polyline points="62.6,530.9 301.6,584.8"/>
<circle class="d" cx="301.6" cy="584.8" r="1.2"/>
<polyline class="u" points="48.8,590.2 71.4,590.2"/>
<polyline points="71.4,590.2 227.7,640.4"/>
<polyline class="u" points="37.6,647.3 62.6,647.3"/>
<polyline points="62.6,647.3 225.5,662.9"/>
<circle class="d" cx="225.5" cy="662.9" r="1.6"/>
<polyline class="u" points="48.8,719.2 71.4,719.2"/>
<polyline points="71.4,719.2 258.2,692.8"/>
<circle class="d" cx="258.2" cy="692.8" r="1.6"/>
<polyline class="u" points="49.5,773.5 73,773.5"/>
<polyline points="73,773.5 261.2,740.3"/>
<circle class="d" cx="261.2" cy="740.3" r="1.2"/>
<polyline class="u" points="49.5,843.3 71.7,843.3"/>
<polyline points="71.7,843.3 270.2,761.9"/>
<circle class="d" cx="270.2" cy="761.9" r="1.6"/>
<polyline class="u" points="263.1,895.4 286.2,895.4"/>
<polyline points="286.2,895.4 364.7,781.2"/>
<circle class="d" cx="364.7" cy="781.2" r="1.6"/>
<polyline class="u" points="384,919 406,919"/>
<polyline points="406,919 476.7,730.2"/>
<circle class="d" cx="476.7" cy="730.2" r="1.6"/>
<polyline class="u" points="482,947 504,947"/>
<polyline points="504,947 546.3,750"/>
<circle class="d" cx="546.3" cy="750" r="1.6"/>
<polyline class="u" points="598.9,967.5 622.7,967.5"/>
<polyline points="622.7,967.5 647.8,772.1"/>
<circle class="d" cx="647.8" cy="772.1" r="1.6"/>
<polyline class="u" points="765,988.7 787.6,988.7"/>
<polyline points="765,988.7 718,796"/>
<circle class="d" cx="718" cy="796" r="1.6"/>
<polyline class="u" points="966.7,863.5 990,863.5"/>
<polyline points="966.7,863.5 748.8,722.8"/>
<circle class="d" cx="748.8" cy="722.8" r="1.6"/>
</g>
<g class="lb">
<text transform="translate(641.3 113.1) scale(0.64 1)" x="0">1</text>
<text transform="translate(105.5 250) scale(0.64 1)" x="0">2</text>
<text transform="translate(237.7 191.1) scale(0.64 1)" x="0">3</text>
<text transform="translate(327 191.1) scale(0.64 1)" x="0">4</text>
<text transform="translate(624.5 280.1) scale(0.64 1)" x="0">5</text>
<text transform="translate(624.5 337.6) scale(0.64 1)" x="0">6</text>
<text transform="translate(694.1 411.3) scale(0.64 1)" x="0 16.09">26</text>
<text transform="translate(776.4 412.6) scale(0.64 1)" x="0 16.09 33.05 50 66.09 83.05 100 116.09">20/21/22</text>
<text transform="translate(974.3 447.6) scale(0.64 1)" x="0 16.09">27</text>
<text transform="translate(28.8 525.1) scale(0.64 1)" x="0 16.95 33.91 50.86 67.81">7\8\9</text>
<text transform="translate(55.7 584) scale(0.64 1)" x="0 16.09">11</text>
<text transform="translate(11.2 640.4) scale(0.64 1)" x="0 16.09 33.05 50 66.09 83.05 100 116.09">12/13/14</text>
<text transform="translate(55.7 711.7) scale(0.64 1)" x="0 16.09">10</text>
<text transform="translate(55.4 766.4) scale(0.64 1)" x="0 16.09">15</text>
<text transform="translate(55.6 835.5) scale(0.64 1)" x="0 16.09">16</text>
<text transform="translate(267.8 889.4) scale(0.64 1)" x="0 16.09">17</text>
<text transform="translate(389.2 911.6) scale(0.64 1)" x="0 16.09">18</text>
<text transform="translate(487.2 939.6) scale(0.64 1)" x="0 16.09">19</text>
<text transform="translate(605.3 960.4) scale(0.64 1)" x="0 16.09">25</text>
<text transform="translate(771 980.5) scale(0.64 1)" x="0 16.09">23</text>
<text transform="translate(974 857.7) scale(0.64 1)" x="0 16.09">24</text>
</g>
</svg>
</body></html>
